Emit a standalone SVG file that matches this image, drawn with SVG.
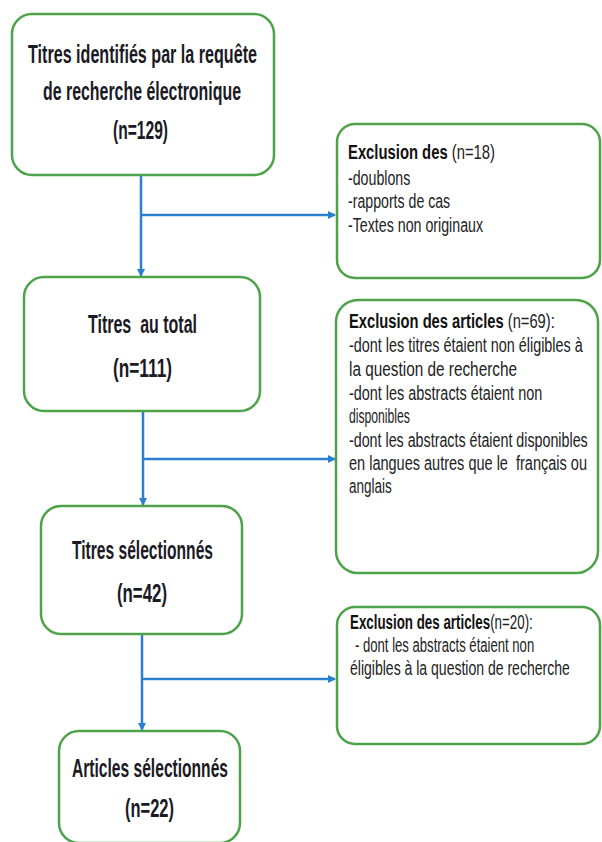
<svg xmlns="http://www.w3.org/2000/svg" width="602" height="842" viewBox="0 0 602 842">
<style>
.box{fill:#fff;stroke:#4ea24a;stroke-width:2.5}
.c{fill:none;stroke:#2a7fd0;stroke-width:2.5}
.m{font-family:"Liberation Sans",Arial,sans-serif;font-weight:bold;font-size:25px;fill:#1b1a24}
.r{font-family:"Liberation Sans",Arial,sans-serif;font-size:21px;fill:#222}
.b{font-weight:bold;fill:#111}
</style>
<defs>
<marker id="ah" markerWidth="8" markerHeight="8" refX="7" refY="4" orient="auto" markerUnits="userSpaceOnUse">
<path d="M0,0 L8,4 L0,8 Z" fill="#2a7fd0"/>
</marker>
</defs>
<rect width="602" height="842" fill="#fff"/>
<g id="connectors">
<path class="c" d="M141,175 V276" marker-end="url(#ah)"/>
<path class="c" d="M141,215 H335" marker-end="url(#ah)"/>
<path class="c" d="M143,411 V505" marker-end="url(#ah)"/>
<path class="c" d="M143,459 H335" marker-end="url(#ah)"/>
<path class="c" d="M142,634 V730" marker-end="url(#ah)"/>
<path class="c" d="M142,679 H335" marker-end="url(#ah)"/>
</g>
<g id="n1">
<rect class="box" x="12" y="14" width="262" height="161" rx="20"/>
<text class="m" x="28" y="63" textLength="229" lengthAdjust="spacingAndGlyphs">Titres identifiés par la requête</text>
<text class="m" x="43" y="100" textLength="198" lengthAdjust="spacingAndGlyphs">de recherche électronique</text>
<text class="m" x="113" y="139" textLength="55" lengthAdjust="spacingAndGlyphs">(n=129)</text>
</g>
<g id="n2">
<rect class="box" x="24" y="277" width="236" height="134" rx="20"/>
<text class="m" x="88" y="333" textLength="109" lengthAdjust="spacingAndGlyphs" xml:space="preserve">Titres  au total</text>
<text class="m" x="113" y="377" textLength="59" lengthAdjust="spacingAndGlyphs">(n=111)</text>
</g>
<g id="n3">
<rect class="box" x="41" y="506" width="201" height="128" rx="20"/>
<text class="m" x="72" y="559" textLength="141" lengthAdjust="spacingAndGlyphs">Titres sélectionnés</text>
<text class="m" x="117" y="602" textLength="50" lengthAdjust="spacingAndGlyphs">(n=42)</text>
</g>
<g id="n4">
<rect class="box" x="59" y="731" width="181" height="112" rx="20"/>
<text class="m" x="72" y="777" textLength="156" lengthAdjust="spacingAndGlyphs">Articles sélectionnés</text>
<text class="m" x="125" y="817" textLength="49" lengthAdjust="spacingAndGlyphs">(n=22)</text>
</g>
<g id="e1">
<rect class="box" x="337" y="124" width="263" height="154" rx="18"/>
<text class="r" transform="translate(348,159) scale(0.7,1)" textLength="210" lengthAdjust="spacingAndGlyphs"><tspan class="b">Exclusion des</tspan> (n=18)</text>
<text class="r" transform="translate(348,185) scale(0.7,1)" textLength="89" lengthAdjust="spacingAndGlyphs">-doublons</text>
<text class="r" transform="translate(348,208) scale(0.7,1)" textLength="146" lengthAdjust="spacingAndGlyphs">-rapports de cas</text>
<text class="r" transform="translate(348,232) scale(0.7,1)" textLength="193" lengthAdjust="spacingAndGlyphs">-Textes non originaux</text>
</g>
<g id="e2">
<rect class="box" x="336" y="300" width="262" height="273" rx="22"/>
<text class="r" transform="translate(349,328) scale(0.7,1)" textLength="294" lengthAdjust="spacingAndGlyphs"><tspan class="b">Exclusion des articles</tspan> (n=69):</text>
<text class="r" transform="translate(349,352) scale(0.7,1)" textLength="334" lengthAdjust="spacingAndGlyphs">-dont les titres étaient non éligibles à</text>
<text class="r" transform="translate(349,376) scale(0.7,1)" textLength="240" lengthAdjust="spacingAndGlyphs">la question de recherche</text>
<text class="r" transform="translate(349,400) scale(0.7,1)" textLength="276" lengthAdjust="spacingAndGlyphs">-dont les abstracts étaient non</text>
<text class="r" transform="translate(349,423) scale(0.7,1)" textLength="87" lengthAdjust="spacingAndGlyphs">disponibles</text>
<text class="r" transform="translate(349,447) scale(0.7,1)" textLength="341" lengthAdjust="spacingAndGlyphs">-dont les abstracts étaient disponibles</text>
<text class="r" transform="translate(349,470) scale(0.7,1)" textLength="340" lengthAdjust="spacingAndGlyphs" xml:space="preserve">en langues autres que le  français ou</text>
<text class="r" transform="translate(349,493) scale(0.7,1)" textLength="61" lengthAdjust="spacingAndGlyphs">anglais</text>
</g>
<g id="e3">
<rect class="box" x="337" y="607" width="263" height="137" rx="18"/>
<text class="r" transform="translate(350,629) scale(0.636,1)"><tspan class="b">Exclusion des articles</tspan>(n=20):</text>
<text class="r" transform="translate(355,652) scale(0.7,1)" textLength="256" lengthAdjust="spacingAndGlyphs">- dont les abstracts étaient non</text>
<text class="r" transform="translate(350,675) scale(0.7,1)" textLength="314" lengthAdjust="spacingAndGlyphs">éligibles à la question de recherche</text>
</g>
</svg>
